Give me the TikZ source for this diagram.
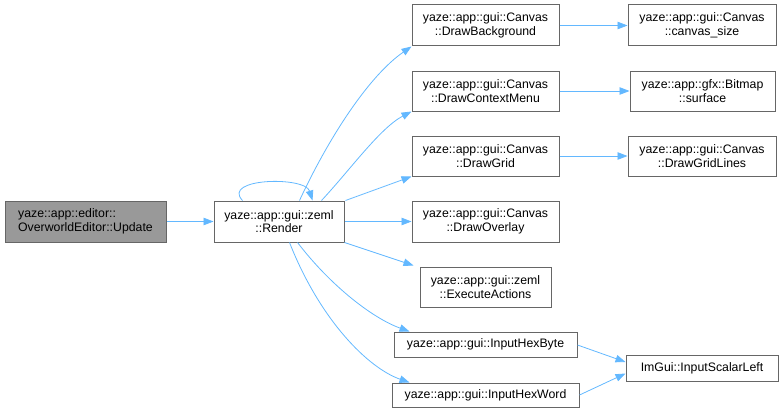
\documentclass[tikz,border=0pt]{standalone}
\usepackage{fontspec}
\setmainfont{Liberation Sans}
\usetikzlibrary{arrows.meta,calc}
\definecolor{edgeblue}{HTML}{63B8FF}
\definecolor{boxgray}{HTML}{666666}
\definecolor{fillgray}{HTML}{999999}
\begin{document}
\begin{tikzpicture}[x=1pt,y=-1pt,
  box/.style={draw=boxgray,line width=1pt,fill=white,rectangle,inner sep=0pt,align=center,
    font=\fontsize{12.3}{13.5}\selectfont,text=black},
  hl/.style={box,fill=fillgray,align=left},
  edge/.style={draw=edgeblue,line width=0.8pt,-{Triangle[length=10pt,width=7.5pt]}}]
\useasboundingbox (0,0) rectangle (783,412);
\node[hl,minimum width=161pt,minimum height=41pt] (upd) at (85.5,221.5) {yaze::app::editor::\\OverworldEditor::Update};
\node[box,minimum width=130pt,minimum height=41pt] (ren) at (279,221.5) {yaze::app::gui::zeml\\::Render};
\node[box,minimum width=147pt,minimum height=41pt] (bg) at (485.5,25.5) {yaze::app::gui::Canvas\\::DrawBackground};
\node[box,minimum width=148pt,minimum height=41pt] (cs) at (702,25.5) {yaze::app::gui::Canvas\\::canvas\_size};
\node[box,minimum width=147pt,minimum height=40pt] (cm) at (485.5,91) {yaze::app::gui::Canvas\\::DrawContextMenu};
\node[box,minimum width=145pt,minimum height=40pt] (sf) at (702.5,91) {yaze::app::gfx::Bitmap\\::surface};
\node[box,minimum width=147pt,minimum height=40pt] (gr) at (485.5,156) {yaze::app::gui::Canvas\\::DrawGrid};
\node[box,minimum width=148pt,minimum height=40pt] (gl) at (702,156) {yaze::app::gui::Canvas\\::DrawGridLines};
\node[box,minimum width=147pt,minimum height=41pt] (ov) at (485.5,221.5) {yaze::app::gui::Canvas\\::DrawOverlay};
\node[box,minimum width=131pt,minimum height=40pt] (ea) at (485.5,287) {yaze::app::gui::zeml\\::ExecuteActions};
\node[box,minimum width=183pt,minimum height=25pt] (hb) at (485.5,344.5) {yaze::app::gui::InputHexByte};
\node[box,minimum width=187pt,minimum height=24pt] (hw) at (485.5,395) {yaze::app::gui::InputHexWord};
\node[box,minimum width=152pt,minimum height=26pt] (isl) at (702,368) {ImGui::InputScalarLeft};
% edges
\draw[edge] (upd.east) -- (ren.west);
\draw[edge] ($(ren.north west)+(29,0)$) .. controls (221,178) and (305,176) .. ($(ren.north west)+(99,0)$);
\draw[edge] ($(ren.north west)+(86,0)$) .. controls (330,135) and (370,75) .. (bg.south west);
\draw[edge] ($(ren.north west)+(108,0)$) .. controls (350,170) and (380,128) .. (cm.south west);
\draw[edge] ($(ren.north east)+(1,0)$) -- (gr.south west);
\draw[edge] (ren.east) -- (ov.west);
\draw[edge] (ren.south east) -- ($(ea.north west)+(-6,-1)$);
\draw[edge] ($(ren.south west)+(84,0)$) .. controls (330,285) and (372,318) .. ($(hb.north west)+(16,0)$);
\draw[edge] ($(ren.south west)+(76,0)$) .. controls (320,320) and (368,368) .. ($(hw.north west)+(18,0)$);
\draw[edge] (bg.east) -- (cs.west);
\draw[edge] (cm.east) -- (sf.west);
\draw[edge] (gr.east) -- (gl.west);
\draw[edge] ($(hb.east)+(0,0.5)$) -- ($(isl.west)+(0,-6)$);
\draw[edge] ($(hw.east)+(0,0)$) -- ($(isl.west)+(0,5.5)$);
\end{tikzpicture}
\end{document}
